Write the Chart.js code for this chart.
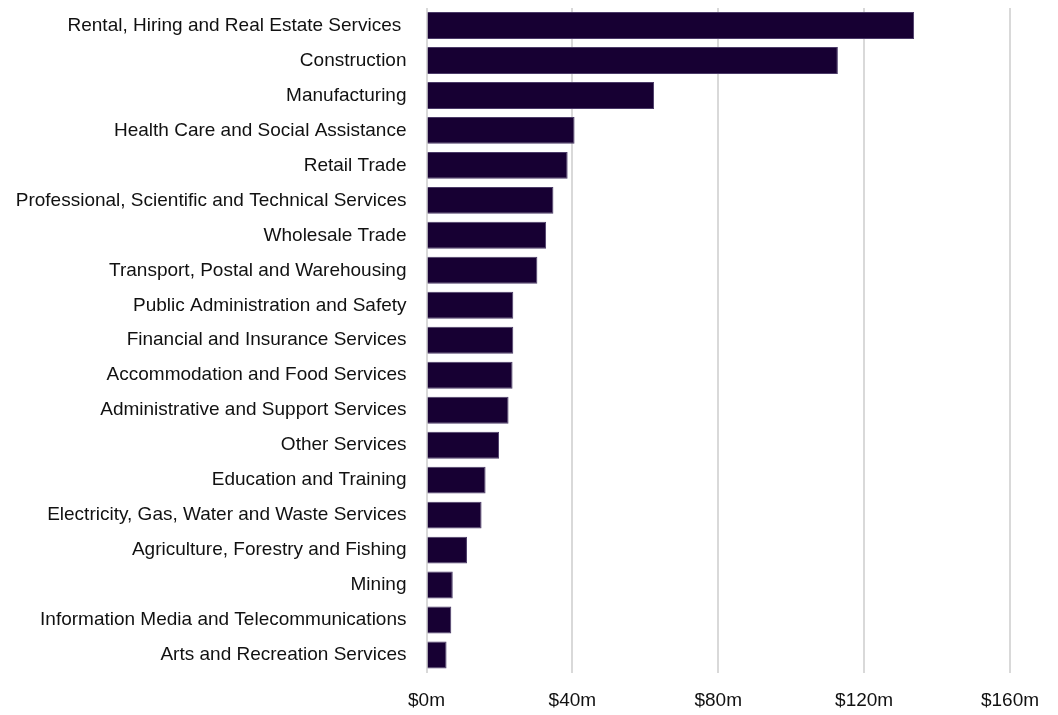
<!DOCTYPE html>
<html>
<head>
<meta charset="utf-8">
<script src="https://cdn.jsdelivr.net/npm/chart.js@4"></script>
<style>
    body { margin: 0; background: #fff; }
    #wrap { width: 1058px; height: 715px; }
</style>
</head>
<body>
<div id="wrap"><canvas id="chart" width="1058" height="715"></canvas></div>
<script>
const industries = [
    "Rental, Hiring and Real Estate Services ",
    "Construction",
    "Manufacturing",
    "Health Care and Social Assistance",
    "Retail Trade",
    "Professional, Scientific and Technical Services",
    "Wholesale Trade",
    "Transport, Postal and Warehousing",
    "Public Administration and Safety",
    "Financial and Insurance Services",
    "Accommodation and Food Services",
    "Administrative and Support Services",
    "Other Services",
    "Education and Training",
    "Electricity, Gas, Water and Waste Services",
    "Agriculture, Forestry and Fishing",
    "Mining",
    "Information Media and Telecommunications",
    "Arts and Recreation Services"
];

// $ millions
const amounts = [133.7, 112.8, 62.4, 40.6, 38.7, 34.8, 32.8, 30.4, 23.8, 23.8, 23.6, 22.5, 19.9, 16.2, 15.1, 11.1, 7.2, 6.8, 5.5];

const xTicks = [0, 40, 80, 120, 160];

const labelFont = { family: "'Liberation Sans', Arial", size: 19 };

const ctx = document.getElementById("chart").getContext("2d");

new Chart(ctx, {
    type: "bar",
    data: {
        labels: industries,
        datasets: [{
            data: amounts,
            backgroundColor: "#170033",
            borderColor: "#4b3b68",
            borderWidth: 1,
            borderSkipped: "left",
            barPercentage: 0.77,
            categoryPercentage: 1
        }]
    },
    options: {
        indexAxis: "y",
        responsive: false,
        animation: false,
        layout: { padding: { top: 8, right: 48, left: 0, bottom: 0 } },
        plugins: {
            legend: { display: false },
            tooltip: { enabled: false }
        },
        scales: {
            x: {
                min: 0,
                max: 160,
                afterBuildTicks: (scale) => {
                    scale.ticks = xTicks.map(v => ({ value: v }));
                },
                afterFit: (scale) => { scale.height = 42.5; },
                grid: { color: "#d9d9d9", lineWidth: 2, drawTicks: false },
                border: { display: false },
                ticks: {
                    padding: 17,
                    color: "#111",
                    font: labelFont,
                    callback: (v) => "$" + v + "m"
                }
            },
            y: {
                afterFit: (scale) => {
                    scale.width = 426.5;
                    scale.paddingTop = 0;
                    scale.paddingBottom = 0;
                },
                grid: { display: false, drawTicks: false },
                border: { display: false },
                ticks: {
                    padding: 20,
                    color: "#111",
                    autoSkip: false,
                    font: labelFont
                }
            }
        }
    }
});
</script>
</body>
</html>
